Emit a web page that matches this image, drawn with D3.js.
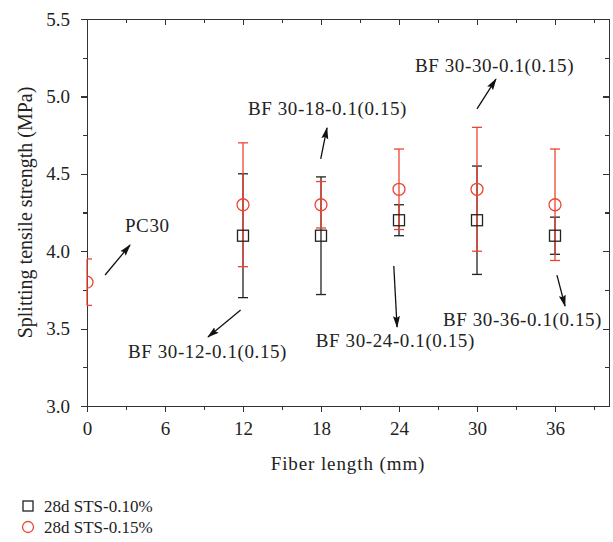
<!DOCTYPE html>
<meta charset="utf-8">
<style>
body { margin: 0; background: #fff; }
text { font-family: "Liberation Serif", "Times New Roman", serif; fill: #222; }
.axis path, .axis line { stroke: #333; stroke-width: 1.2; shape-rendering: crispEdges; }
.axis text { font-size: 19px; font-family: "Liberation Serif", serif; }
.label { font-size: 19px; letter-spacing: 0.6px; }
.title { font-size: 19px; letter-spacing: 0.9px; }
.legend { font-size: 17px; }
.arrow { stroke: #111; stroke-width: 1.3; }
</style>
<svg width="613" height="542"></svg>
<script src="https://d3js.org/d3.v7.min.js"></script>
<script>

var lengths = [12, 18, 24, 30, 36];

// 28d STS-0.10%
var sts10 = [4.1, 4.1, 4.2, 4.2, 4.1],
    sts10Lo = [3.70, 3.72, 4.10, 3.85, 3.98],
    sts10Hi = [4.50, 4.48, 4.30, 4.55, 4.22];

// 28d STS-0.15% (first point is PC30 at 0 mm)
var lengths15 = [0, 12, 18, 24, 30, 36],
    sts15 = [3.8, 4.3, 4.3, 4.4, 4.4, 4.3],
    sts15Lo = [3.65, 3.90, 4.15, 4.14, 4.00, 3.94],
    sts15Hi = [3.95, 4.70, 4.45, 4.66, 4.80, 4.66];

var xTicks = [0, 6, 12, 18, 24, 30, 36],
    yTicks = [3.0, 3.5, 4.0, 4.5, 5.0, 5.5];

// annotations in data units: text anchor, arrow tail, arrow head
var notes = [
  {text: "PC30", x: 2.92, y: 4.124, x1: 1.39, y1: 3.846, x2: 3.31, y2: 4.04},
  {text: "BF 30-12-0.1(0.15)", x: 3.15, y: 3.31, x1: 11.82, y1: 3.62, x2: 9.31, y2: 3.446},
  {text: "BF 30-18-0.1(0.15)", x: 12.38, y: 4.88, x1: 17.98, y1: 4.596, x2: 18.46, y2: 4.796},
  {text: "BF 30-24-0.1(0.15)", x: 17.6, y: 3.38, x1: 23.6, y1: 3.904, x2: 23.85, y2: 3.51},
  {text: "BF 30-30-0.1(0.15)", x: 25.23, y: 5.16, x1: 30.0, y1: 4.919, x2: 31.46, y2: 5.112},
  {text: "BF 30-36-0.1(0.15)", x: 27.38, y: 3.515, x1: 36.15, y1: 3.846, x2: 36.77, y2: 3.646}
];

var black = "#222", red = "#ee4530";

var svg = d3.select("svg"),
    margin = {top: 19, right: 4, bottom: 136, left: 87},
    width = 613 - margin.left - margin.right,
    height = 542 - margin.top - margin.bottom;

var x = d3.scaleLinear().domain([0, width / 13]).range([0, width]);
var y = d3.scaleLinear().domain([3, 5.5]).range([height, 0]);

var defs = svg.append("defs");
defs.append("marker")
    .attr("id", "head")
    .attr("viewBox", "0 0 12 8")
    .attr("refX", 11).attr("refY", 4)
    .attr("markerWidth", 12).attr("markerHeight", 8)
    .attr("markerUnits", "userSpaceOnUse")
    .attr("orient", "auto")
  .append("path").attr("d", "M0,0.5L12,4L0,7.5L2,4Z").attr("fill", "#111");

var g = svg.append("g")
    .attr("transform", "translate(" + margin.left + "," + margin.top + ")");

var minorX = d3.range(3, 40, 6),
    minorY = d3.range(3.25, 5.5, 0.5);

function plain(a) { a.attr("font-family", null).attr("font-size", null); }

// bottom axis
g.append("g").attr("class", "axis")
    .attr("transform", "translate(0," + height + ")")
    .call(d3.axisBottom(x).tickValues(xTicks).tickSize(6).tickSizeOuter(0).tickPadding(6))
    .call(plain)
    .call(function(a) { a.selectAll("text").attr("dy", "0.9em"); });
g.append("g").attr("class", "axis")
    .attr("transform", "translate(0," + height + ")")
    .call(d3.axisBottom(x).tickValues(minorX).tickSize(4).tickSizeOuter(0).tickFormat(""));
// top axis
g.append("g").attr("class", "axis")
    .call(d3.axisBottom(x).tickValues(xTicks).tickSize(6).tickSizeOuter(0).tickFormat(""));
g.append("g").attr("class", "axis")
    .call(d3.axisBottom(x).tickValues(minorX).tickSize(4).tickSizeOuter(0).tickFormat(""));

// left axis
g.append("g").attr("class", "axis")
    .call(d3.axisLeft(y).tickValues(yTicks).tickSize(6).tickSizeOuter(0).tickPadding(11).tickFormat(d3.format(".1f")))
    .call(plain);
g.append("g").attr("class", "axis")
    .call(d3.axisLeft(y).tickValues(minorY).tickSize(4).tickSizeOuter(0).tickFormat(""));
// right axis
g.append("g").attr("class", "axis")
    .attr("transform", "translate(" + width + ",0)")
    .call(d3.axisLeft(y).tickValues(yTicks).tickSize(6).tickSizeOuter(0).tickFormat(""));
g.append("g").attr("class", "axis")
    .attr("transform", "translate(" + width + ",0)")
    .call(d3.axisLeft(y).tickValues(minorY).tickSize(4).tickSizeOuter(0).tickFormat(""));

// titles
g.append("text").attr("class", "title")
    .attr("x", width / 2).attr("y", height + 64)
    .attr("text-anchor", "middle")
    .text("Fiber length (mm)");

g.append("text").attr("class", "label")
    .attr("transform", "translate(-55," + (height / 2) + ") rotate(-90)")
    .attr("text-anchor", "middle")
    .style("font-size", "20px")
    .style("letter-spacing", "0px")
    .text("Splitting tensile strength (MPa)");

var plot = g.append("g");

// marks sitting on the left frame are cut at x = 0
var x0 = x.domain()[0];

function errorBars(xs, lo, hi, color) {
  var eb = plot.append("g").attr("stroke", color).attr("stroke-width", 1.3)
    .selectAll("g").data(xs).enter().append("g");
  eb.append("line")
      .attr("x1", function(d) { return x(d); }).attr("x2", function(d) { return x(d); })
      .attr("y1", function(d, i) { return y(lo[i]); })
      .attr("y2", function(d, i) { return y(hi[i]); });
  [lo, hi].forEach(function(arr) {
    eb.append("line")
        .attr("x1", function(d) { return Math.max(x(x0), x(d) - 5); })
        .attr("x2", function(d) { return x(d) + 5; })
        .attr("y1", function(d, i) { return y(arr[i]); })
        .attr("y2", function(d, i) { return y(arr[i]); });
  });
}

errorBars(lengths, sts10Lo, sts10Hi, black);
errorBars(lengths15, sts15Lo, sts15Hi, red);

plot.append("g").selectAll("rect").data(lengths).enter().append("rect")
    .attr("x", function(d) { return x(d) - 5.5; })
    .attr("y", function(d, i) { return y(sts10[i]) - 5.5; })
    .attr("width", 11).attr("height", 11)
    .attr("fill", "none").attr("stroke", black).attr("stroke-width", 1.3);

function ringPath(d) {
  var p = d3.path();
  if (d === x0) p.arc(0, 0, 6, -Math.PI / 2, Math.PI / 2);
  else p.arc(0, 0, 6, 0, 2 * Math.PI);
  return p.toString();
}

plot.append("g").selectAll("path").data(lengths15).enter().append("path")
    .attr("transform", function(d, i) { return "translate(" + x(d) + "," + y(sts15[i]) + ")"; })
    .attr("d", ringPath)
    .attr("fill", "none").attr("stroke", red).attr("stroke-width", 1.3);

// annotations
var note = g.append("g").selectAll("g").data(notes).enter().append("g");
note.append("text").attr("class", "label")
    .attr("x", function(d) { return x(d.x); })
    .attr("y", function(d) { return y(d.y); })
    .text(function(d) { return d.text; });
note.append("line").attr("class", "arrow")
    .attr("x1", function(d) { return x(d.x1); })
    .attr("y1", function(d) { return y(d.y1); })
    .attr("x2", function(d) { return x(d.x2); })
    .attr("y2", function(d) { return y(d.y2); })
    .attr("marker-end", "url(#head)");

// legend
var legend = svg.append("g").attr("transform", "translate(28,506)");
legend.append("rect").attr("x", -5).attr("y", -5).attr("width", 10).attr("height", 10)
    .attr("fill", "none").attr("stroke", black).attr("stroke-width", 1.3);
legend.append("text").attr("class", "legend").attr("x", 16).attr("y", 6).text("28d STS-0.10%");
legend.append("circle").attr("cy", 21).attr("r", 5.5)
    .attr("fill", "none").attr("stroke", red).attr("stroke-width", 1.3);
legend.append("text").attr("class", "legend").attr("x", 16).attr("y", 27).text("28d STS-0.15%");

</script>
